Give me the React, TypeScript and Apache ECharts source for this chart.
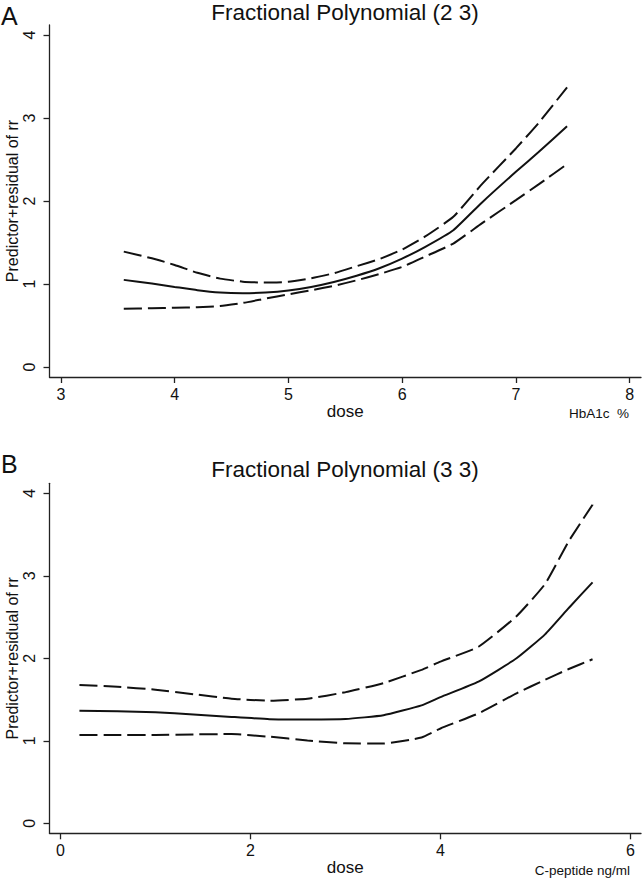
import React, { useEffect, useRef } from "react";
import * as echarts from "echarts";

// Panel A: HbA1c %
const hba1cDose = [3.553, 3.8, 4.0, 4.2, 4.4, 4.6, 4.8, 5.0, 5.2, 5.4, 5.6, 5.8, 6.0, 6.2, 6.45, 6.7, 7.0, 7.2, 7.45];
const hba1cFit = [1.05, 1.005, 0.965, 0.925, 0.898, 0.89, 0.898, 0.922, 0.965, 1.025, 1.1, 1.19, 1.306, 1.445, 1.648, 1.98, 2.352, 2.59, 2.9];
const hba1cUpper = [1.39, 1.31, 1.23, 1.135, 1.065, 1.028, 1.017, 1.027, 1.07, 1.13, 1.215, 1.3, 1.415, 1.57, 1.809, 2.2, 2.633, 2.94, 3.369];
const hba1cLower = [0.702, 0.708, 0.714, 0.72, 0.735, 0.772, 0.825, 0.876, 0.925, 0.978, 1.045, 1.12, 1.206, 1.33, 1.487, 1.73, 2.01, 2.2, 2.444];
const hba1cXTicks = [3, 4, 5, 6, 7, 8];

// Panel B: C-peptide ng/ml
const cpepDose = [0.2, 0.6, 1.0, 1.4, 1.8, 2.2, 2.6, 3.0, 3.4, 3.8, 4.0, 4.4, 4.8, 5.1, 5.35, 5.6];
const cpepFit = [1.366, 1.358, 1.345, 1.32, 1.29, 1.263, 1.26, 1.265, 1.31, 1.43, 1.53, 1.717, 2.0, 2.29, 2.61, 2.92];
const cpepUpper = [1.677, 1.655, 1.62, 1.565, 1.51, 1.487, 1.51, 1.59, 1.7, 1.86, 1.96, 2.14, 2.51, 2.9, 3.42, 3.86];
const cpepLower = [1.071, 1.071, 1.071, 1.078, 1.082, 1.05, 1.005, 0.97, 0.968, 1.04, 1.15, 1.333, 1.576, 1.74, 1.87, 1.988];
const cpepXTicks = [0, 2, 4, 6];

const yTicks = [0, 1, 2, 3, 4];

const FONT = "'Liberation Sans', Arial, sans-serif";

function pairs(xs: number[], ys: number[]) {
  return xs.map((x, i) => [x, ys[i]]);
}

export default function App() {
  const ref = useRef<HTMLDivElement>(null);
  useEffect(() => {
    if (!ref.current) return;
    const chart = echarts.init(ref.current, undefined, { renderer: "svg" });

    const axisColor = "#222";
    const mkX = (idx: number, min: number, max: number, ticks: number[]) => ({
      gridIndex: idx,
      type: "value",
      min,
      max,
      axisLine: { show: true, onZero: false, lineStyle: { color: axisColor, width: 1.3 } },
      axisTick: { show: true, length: 6, customValues: ticks, lineStyle: { color: axisColor, width: 1.3 } },
      axisLabel: { customValues: ticks, fontSize: 16, color: "#111", margin: 9, fontFamily: FONT },
      splitLine: { show: false },
      name: "dose",
      nameLocation: "middle",
      nameGap: 26,
      nameMoveOverlap: false,
      nameTextStyle: { fontSize: 17, color: "#111", fontFamily: FONT },
    });
    const mkY = (idx: number) => ({
      gridIndex: idx,
      type: "value",
      min: -0.12,
      max: 4.12,
      axisLine: { show: true, onZero: false, lineStyle: { color: axisColor, width: 1.3 } },
      axisTick: { show: true, length: 6, customValues: yTicks, lineStyle: { color: axisColor, width: 1.3 } },
      axisLabel: { customValues: yTicks, rotate: 90, fontSize: 16, color: "#111", margin: 12, fontFamily: FONT },
      splitLine: { show: false },
      name: "Predictor+residual of rr",
      nameLocation: "middle",
      nameRotate: 90,
      nameGap: 29,
      nameMoveOverlap: false,
      nameTextStyle: { fontSize: 16, color: "#111", fontFamily: FONT },
    });

    const solid = { color: "#111", width: 2, type: "solid" };
    const dashed = { color: "#111", width: 2, type: [18, 6] };
    const mkLine = (name: string, idx: number, xs: number[], ys: number[], ls: any) => ({
      name,
      type: "line",
      xAxisIndex: idx,
      yAxisIndex: idx,
      data: pairs(xs, ys),
      showSymbol: false,
      symbol: "none",
      smooth: 0.15,
      lineStyle: ls,
      silent: true,
    });

    const txt = (text: string, x: number, y: number, size: number, align: string) => ({
      type: "text",
      x,
      y,
      silent: true,
      style: { text, fontSize: size, fontFamily: FONT, fill: "#111", align, verticalAlign: "middle" },
    });

    chart.setOption({
      animation: false,
      backgroundColor: "#fff",
      grid: [
        { left: 49.5, top: 25, width: 591.5, height: 352, containLabel: false, outerBoundsMode: "none" },
        { left: 49.5, top: 483.3, width: 591.5, height: 350, containLabel: false, outerBoundsMode: "none" },
      ],
      xAxis: [mkX(0, 2.9, 8.1, hba1cXTicks), mkX(1, -0.115, 6.11, cpepXTicks)],
      yAxis: [mkY(0), mkY(1)],
      series: [
        mkLine("Fit A", 0, hba1cDose, hba1cFit, solid),
        mkLine("Upper CI A", 0, hba1cDose, hba1cUpper, dashed),
        mkLine("Lower CI A", 0, hba1cDose, hba1cLower, dashed),
        mkLine("Fit B", 1, cpepDose, cpepFit, solid),
        mkLine("Upper CI B", 1, cpepDose, cpepUpper, dashed),
        mkLine("Lower CI B", 1, cpepDose, cpepLower, dashed),
      ],
      graphic: [
        txt("A", 1, 16, 25, "left"),
        txt("B", 1, 464, 25, "left"),
        txt("Fractional Polynomial (2 3)", 345, 12, 22.5, "center"),
        txt("Fractional Polynomial (3 3)", 345, 469, 22.5, "center"),
        txt("HbA1c  %", 629, 413, 13.5, "right"),
        txt("C-peptide ng/ml", 630, 870, 13.5, "right"),
      ],
    });
    return () => chart.dispose();
  }, []);
  return <div ref={ref} style={{ position: "absolute", left: 0, top: 0, width: 643, height: 879 }} />;
}
